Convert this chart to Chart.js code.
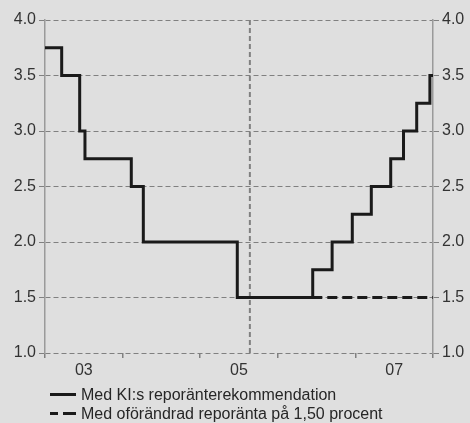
<!DOCTYPE html>
<html>
<head>
<meta charset="utf-8">
<script src="https://cdn.jsdelivr.net/npm/chart.js@4"></script>
<style>
    html, body { margin: 0; padding: 0; background: #dfdfdf; }
    #wrap { position: relative; width: 470px; height: 423px; }
    #legend { position: absolute; left: 50px; top: 385px; font: 16px "Liberation Sans", Arial, sans-serif; color: #262626; }
    .row { display: flex; align-items: center; height: 19px; }
    .sample { width: 26px; height: 3px; margin-right: 5px; position: relative; }
    .solid { background: #1a1a1a; }
    .dash span { position: absolute; top: 0; height: 3px; background: #1a1a1a; }
</style>
</head>
<body>
<div id="wrap">
    <canvas id="chart" width="470" height="423"></canvas>
    <div id="legend">
        <div class="row"><div class="sample solid"></div><span id="lab0"></span></div>
        <div class="row"><div class="sample dash"><span style="left:0;width:8px"></span><span style="left:13px;width:13px"></span></div><span id="lab1"></span></div>
    </div>
</div>
<script>
    // data (x = decimal year, step changes)
    const seriesNames = ['Med KI:s reporänterekommendation', 'Med oförändrad reporänta på 1,50 procent'];
    const kiDates = [2003.0, 2003.215, 2003.447, 2003.515, 2004.112, 2004.267, 2005.478, 2006.45, 2006.70, 2006.96, 2007.205, 2007.455, 2007.62, 2007.79, 2007.96, 2008.0];
    const kiRates = [3.75, 3.5, 3.0, 2.75, 2.5, 2.0, 1.5, 1.75, 2.0, 2.25, 2.5, 2.75, 3.0, 3.25, 3.5, 3.5];
    const flatDates = [2005.478, 2008.0];
    const flatRates = [1.5, 1.5];
    const markerDate = 2005.64;
    const yTicks = [1.0, 1.5, 2.0, 2.5, 3.0, 3.5, 4.0];
    const xTickYears = [2003.5, 2005.5, 2007.5];
    const xTickLabels = ['03', '05', '07'];

    document.getElementById('lab0').textContent = seriesNames[0];
    document.getElementById('lab1').textContent = seriesNames[1];

    const toPoints = (xs, ys) => xs.map((x, i) => ({ x: x, y: ys[i] }));

    const font = { family: '"Liberation Sans", Arial, sans-serif', size: 16 };

    const yAxis = (pos) => ({
        type: 'linear',
        position: pos,
        min: 1,
        max: 4,
        afterBuildTicks: (scale) => { scale.ticks = yTicks.map(v => ({ value: v })); },
        afterFit: (scale) => { scale.width = pos === 'left' ? 45 : 37; },
        ticks: {
            color: '#333',
            font: font,
            padding: 3,
            callback: (v) => v.toFixed(1)
        },
        grid: {
            drawOnChartArea: pos === 'left',
            color: '#808080',
            lineWidth: 1,
            tickLength: 6,
            tickColor: '#808080',
            tickBorderDash: []
        },
        border: { display: true, color: '#9a9a9a', width: 1.5, dash: [5, 3] }
    });

    new Chart(document.getElementById('chart'), {
        type: 'line',
        data: {
            datasets: [{
                label: seriesNames[0],
                data: toPoints(kiDates, kiRates),
                borderColor: '#1a1a1a',
                borderWidth: 3,
                stepped: 'before',
                pointRadius: 0,
                fill: false
            }, {
                label: seriesNames[1],
                data: toPoints(flatDates, flatRates),
                borderColor: '#1a1a1a',
                borderWidth: 3,
                borderDash: [10, 5],
                pointRadius: 0,
                fill: false
            }, {
                label: 'marker',
                data: [{ x: markerDate, y: 1 }, { x: markerDate, y: 4 }],
                borderColor: '#808080',
                borderWidth: 2,
                borderDash: [5, 3],
                pointRadius: 0,
                fill: false
            }]
        },
        options: {
            responsive: false,
            animation: false,
            layout: { padding: { top: 20, bottom: 0, left: 0, right: 0 } },
            plugins: {
                legend: { display: false },
                tooltip: { enabled: false }
            },
            scales: {
                x: {
                    type: 'linear',
                    min: 2003,
                    max: 2008,
                    afterBuildTicks: (scale) => {
                        const t = [];
                        for (let v = 2003; v <= 2008; v += 0.5) t.push({ value: v });
                        scale.ticks = t;
                    },
                    afterFit: (scale) => { scale.height = 70; },
                    ticks: {
                        color: '#333',
                        font: font,
                        autoSkip: false,
                        maxRotation: 0,
                        padding: 3,
                        callback: (v) => {
                            const i = xTickYears.indexOf(v);
                            return i >= 0 ? xTickLabels[i] : '';
                        }
                    },
                    grid: {
                        drawOnChartArea: false,
                        tickLength: 5,
                        tickColor: (ctx) => Number.isInteger(ctx.tick && ctx.tick.value) ? '#808080' : 'rgba(0,0,0,0)',
                        lineWidth: 1.5
                    },
                    border: { display: false }
                },
                y: yAxis('left'),
                y2: yAxis('right')
            }
        }
    });
</script>
</body>
</html>
